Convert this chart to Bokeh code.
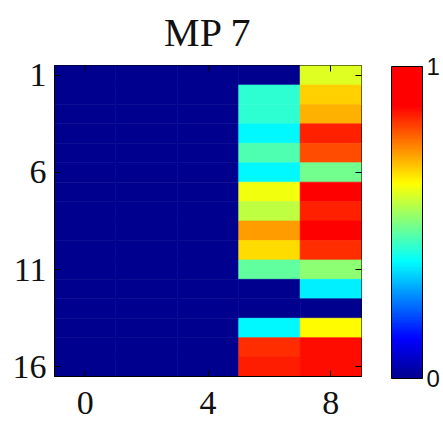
import numpy as np
from bokeh.plotting import figure
from bokeh.models import (LinearColorMapper, ColorBar, FixedTicker, LinearAxis,
                          ColumnDataSource, Range1d)
from bokeh.embed import file_html
from bokeh.resources import INLINE

# ---- data ----
chart_title = "MP 7"
columns = [0, 2, 4, 6, 8]
rows = list(range(1, 17))
col_0 = [0.0] * 16
col_2 = [0.0] * 16
col_4 = [0.0] * 16
col_6 = [0.0, 0.42, 0.42, 0.37, 0.45, 0.37, 0.61, 0.56, 0.72, 0.66, 0.47, 0.0, 0.0, 0.37, 0.83, 0.845]
col_8 = [0.59, 0.67, 0.70, 0.84, 0.80, 0.485, 0.90, 0.84, 0.90, 0.83, 0.515, 0.36, 0.0, 0.625, 0.86, 0.86]
x_ticks = [0, 4, 8]
y_ticks = [1, 6, 11, 16]
cbar_ticks = [0, 1]

# ---- jet-like palette ----
stops = [0.0, 0.125, 0.375, 0.625, 0.875, 1.0]
r_s = [0.0, 0.0, 0.0, 1.0, 1.0, 1.0]
g_s = [0.0, 0.0, 1.0, 1.0, 0.0, 0.0]
b_s = [0.56, 1.0, 1.0, 0.0, 0.0, 0.0]
t = np.linspace(0, 1, 256)
palette = ["#%02x%02x%02x" % (int(round(255 * np.interp(v, stops, r_s))),
                              int(round(255 * np.interp(v, stops, g_s))),
                              int(round(255 * np.interp(v, stops, b_s)))) for v in t]
mapper = LinearColorMapper(palette=palette, low=0, high=1)

xs, ys, vs = [], [], []
for cx, col in zip(columns, [col_0, col_2, col_4, col_6, col_8]):
    for ry, v in zip(rows, col):
        xs.append(cx); ys.append(ry); vs.append(v)
src = ColumnDataSource(dict(x=xs, y=ys, v=vs))

serif = "Liberation Serif"
p = figure(frame_width=307, frame_height=311,
           x_range=Range1d(-1, 9), y_range=Range1d(16.5, 0.5),
           output_backend="svg", toolbar_location=None,
           min_border_left=54, min_border_top=0, min_border_right=0, min_border_bottom=0,
           title=chart_title)
p.title.text_font = serif
p.title.text_font_size = "40px"
p.title.text_font_style = "normal"
p.title.align = "center"
p.title.vertical_align = "top"
p.title.text_color = "#111111"
p.title.standoff = 18

p.rect(x="x", y="y", width=2, height=1, source=src,
       fill_color={"field": "v", "transform": mapper},
       line_color={"field": "v", "transform": mapper}, line_width=0.6)

p.grid.visible = False
p.outline_line_color = "black"
p.outline_line_width = 1

for ax in (p.xaxis[0], p.yaxis[0]):
    ax.major_label_text_font = serif
    ax.major_label_text_font_size = "34px"
    ax.major_label_text_color = "#111111"
    ax.major_tick_in = 6
    ax.major_tick_out = 0
    ax.minor_tick_line_color = None
    ax.axis_line_color = "black"
p.yaxis.major_label_standoff = 8
p.xaxis.major_label_standoff = 15
p.xaxis.ticker = FixedTicker(ticks=x_ticks)
p.yaxis.ticker = FixedTicker(ticks=y_ticks)

top_ax = LinearAxis(ticker=FixedTicker(ticks=x_ticks), major_label_text_font_size="0px",
                    major_label_text_color=None,
                    major_label_standoff=0, major_tick_in=6, major_tick_out=0,
                    minor_tick_line_color=None, axis_line_color=None)
right_ax = LinearAxis(ticker=FixedTicker(ticks=y_ticks), major_label_text_font_size="0px",
                      major_label_text_color=None,
                      major_label_standoff=0, major_tick_in=6, major_tick_out=0,
                      minor_tick_line_color=None, axis_line_color=None)
p.add_layout(top_ax, "above")
p.add_layout(right_ax, "right")

cb = ColorBar(color_mapper=mapper, ticker=FixedTicker(ticks=cbar_ticks),
              width=31, height=312, padding=0, margin=0, location=(30, -2),
              major_label_text_font="Liberation Sans", major_label_text_font_size="24px",
              major_label_text_color="#111111",
              major_tick_line_color=None, bar_line_color="black", bar_line_width=1,
              label_standoff=4)
p.add_layout(cb, "right")

open("out.html", "w").write(file_html(p, INLINE))
